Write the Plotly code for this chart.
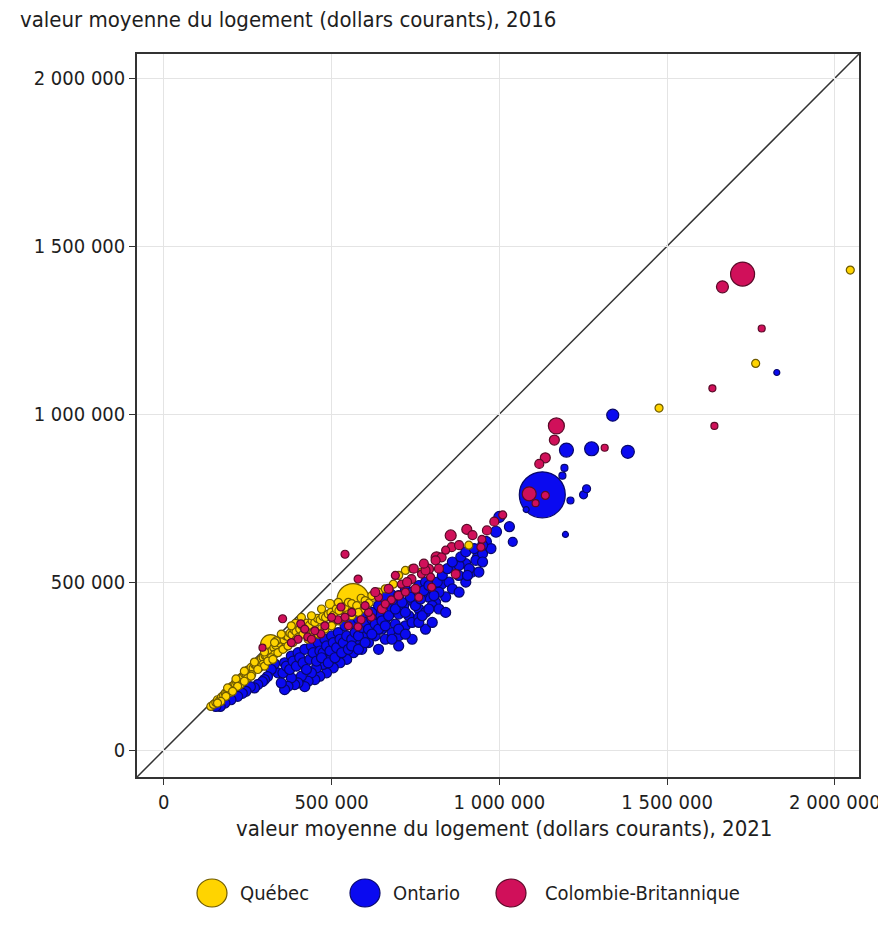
import plotly.graph_objects as go

# ---- data (thousands of current dollars) ----
qc_x = [564, 318, 495, 393,
        140, 148, 155, 160, 166, 172, 178, 183, 188, 193, 198, 203, 207, 212, 217, 222, 226, 231, 236, 240,
        245, 250, 255, 260, 266, 271, 276, 281, 286, 291, 296, 302, 307, 312, 322, 328, 334, 340, 346, 352,
        358, 364, 370, 376, 382, 388, 394, 405, 412, 420, 426, 434, 442, 450, 458, 466, 474, 482, 490, 498,
        506, 514, 522, 530, 540, 550, 560, 575, 588, 600, 612, 625, 684, 720, 768, 909, 1476, 1764, 2046,
        200, 228, 262, 295, 330, 360, 395, 430, 470, 505, 250, 285, 320,
        190, 215, 240, 270, 300, 335,
        300, 310, 325, 340, 355, 370, 385, 400, 415, 430, 445, 460, 480, 500, 520, 540, 560, 580, 600, 620,
        640, 660, 700, 740, 520, 470, 440, 410, 380, 350, 330, 280, 260, 240, 220, 205, 185, 170, 160]
qc_y = [448, 314, 435, 376,
        130, 136, 142, 150, 148, 158, 163, 170, 172, 180, 183, 190, 188, 198, 202, 208, 206, 216, 220, 228,
        226, 238, 236, 246, 244, 255, 252, 264, 262, 272, 276, 282, 280, 292, 296, 305, 312, 322, 318, 330,
        328, 340, 338, 348, 344, 358, 352, 360, 370, 365, 378, 372, 385, 380, 392, 388, 398, 395, 405, 410,
        402, 420, 415, 428, 425, 440, 436, 430, 452, 445, 438, 455, 494, 535, 530, 610, 1018, 1151, 1429,
        172, 195, 225, 255, 285, 305, 330, 348, 362, 380, 215, 245, 275,
        185, 212, 235, 262, 292, 325,
        250, 265, 270, 290, 300, 310, 320, 335, 345, 330, 350, 345, 360, 370, 385, 395, 400, 410, 420, 460,
        470, 480, 520, 540, 440, 420, 400, 395, 370, 345, 320, 240, 220, 205, 190, 175, 160, 145, 140]
qc_s = [32, 20, 9, 9] + [8] * 79 + [8] * 13 + [8] * 6 + [8] * 39

on_x = [1128, 668, 1200, 1275, 1338, 1383, 1000, 990, 1030, 960, 935, 900, 1827,
        1188, 1194, 1212, 1251, 1260, 1197, 1080, 1040,
        870, 840, 828, 850, 880, 918, 939, 930, 950, 975, 900, 879, 810, 790, 770, 760, 745, 730, 715, 700,
        690, 680, 660, 650, 640, 630, 620, 610, 600, 590, 575, 565, 555, 545, 535, 525, 515, 505, 495, 485,
        475, 465, 455, 450, 440, 430, 420, 410, 400, 390, 380, 370, 360, 350, 340, 330, 320, 309, 300, 294,
        280, 270, 258, 245, 234, 220, 200, 182, 168, 155,
        360, 380, 400, 420, 440, 460, 480, 500, 520, 540, 560, 580, 600, 620, 640, 700, 720, 740, 760, 780,
        800, 820, 640, 660, 680, 700, 720, 740, 760, 780, 800, 820, 700, 740, 780, 800, 840,
        355, 365, 375, 385, 395, 405, 415, 425, 435, 445, 455, 465,
        475, 485, 495, 505, 515, 525, 535, 545, 470, 490, 510, 530, 550,
        560, 570, 580, 590, 600, 610, 620, 630, 640, 650, 560, 580, 600, 620, 660, 670,
        690, 710, 720, 735, 750, 765, 775, 790, 805, 815, 760, 770, 790, 700, 720, 680,
        830, 845, 860, 885, 900, 910, 925, 950, 860, 880, 905, 950]
on_y = [760, 452, 893, 897, 997, 888, 694, 650, 665, 620, 575, 555, 1124,
        817, 840, 743, 760, 778, 642, 716, 620,
        544, 456, 494, 500, 550, 530, 530, 565, 585, 600, 500, 520, 440, 455, 465, 420, 440, 400, 430, 405,
        375, 420, 390, 360, 400, 340, 370, 320, 350, 300, 330, 290, 315, 270, 300, 260, 285, 245, 270, 230,
        255, 220, 245, 210, 230, 205, 189, 220, 200, 195, 215, 190, 180, 200, 230, 257, 240, 219, 210, 204,
        195, 185, 189, 175, 169, 160, 150, 140, 130, 130,
        260, 280, 290, 300, 310, 320, 330, 340, 350, 370, 380, 390, 400, 410, 430, 460, 480, 470, 490, 500,
        480, 470, 300, 330, 350, 340, 370, 380, 395, 410, 430, 420, 310, 330, 360, 380, 410,
        230, 250, 240, 265, 250, 275, 260, 240, 270, 290, 265, 295,
        290, 310, 295, 320, 305, 330, 320, 340, 275, 260, 275, 290, 300,
        330, 350, 340, 365, 380, 360, 390, 375, 360, 385, 310, 300, 320, 345, 370, 400,
        420, 440, 410, 455, 430, 450, 475, 490, 460, 500, 380, 400, 420, 360, 345, 330,
        520, 540, 560, 575, 590, 540, 600, 610, 480, 470, 520, 560]
on_s = ([46, 20, 14, 14, 12, 13, 11, 11, 10, 11, 10, 10, 6,
         7, 7, 7, 8, 8, 6, 6, 9] + [10] * 70 + [10] * 37 + [10] * 12 + [10] * 13 + [10] * 16
        + [10] * 16 + [10] * 12)

cb_x = [1725, 1665, 1782, 1635, 1641, 1170, 1164, 1314, 1137, 1119, 1089, 1137, 1108,
        855, 903, 813, 858, 963, 948, 945, 789, 870, 768, 708, 738, 795, 798, 828, 810, 840, 780, 690, 579,
        678, 618, 610, 528, 519, 540, 550, 588, 540, 354, 408, 420, 429, 468, 579, 650, 660, 700, 720, 750,
        760, 640, 600, 560, 500, 480, 450, 440, 400, 380, 294,
        630, 670, 725, 745, 775, 820, 880, 920, 985, 1010]
cb_y = [1417, 1379, 1255, 1077, 965, 965, 923, 900, 870, 852, 763, 758, 735,
        639, 657, 574, 604, 654, 627, 604, 539, 524, 524, 494, 509, 515, 485, 574, 565, 595, 535, 520, 509,
        447, 396, 410, 426, 388, 396, 370, 388, 583, 391, 376, 360, 337, 346, 367, 420, 435, 460, 470, 480,
        455, 455, 430, 410, 395, 370, 355, 330, 330, 320, 305,
        470, 480, 500, 540, 555, 540, 610, 640, 680, 700]
cb_s = [24, 12, 7, 7, 7, 16, 10, 7, 10, 9, 14, 8, 7,
        11, 10, 11, 9, 9, 8, 8, 10, 9, 8, 8, 9, 8, 8, 9, 9, 8, 9, 8, 8,
        8, 8, 8, 8, 8, 8, 8, 8, 8, 8, 8, 8, 8, 8, 8, 9, 8, 9, 8, 9,
        8, 8, 8, 8, 8, 8, 8, 8, 8, 8, 7,
        9, 9, 9, 9, 9, 9, 9, 9, 9, 8]

tick_vals = [0, 500000, 1000000, 1500000, 2000000]
tick_text = ["0", "500 000", "1 000 000", "1 500 000", "2 000 000"]
provinces = ["Québec", "Ontario", "Colombie-Britannique"]
fills = {"Québec": "#FFD400", "Ontario": "#0A0AF0", "Colombie-Britannique": "#D0105A"}
edges = {"Québec": "#6E5A00", "Ontario": "#08086A", "Colombie-Britannique": "#5A0A28"}

FONT = "DejaVu Sans Condensed"
TXT = "#1E1E1E"
RANGE = [-80000, 2072000]

fig = go.Figure()
series = {"Ontario": (on_x, on_y, on_s), "Québec": (qc_x, qc_y, qc_s),
          "Colombie-Britannique": (cb_x, cb_y, cb_s)}
for name in ["Ontario", "Québec", "Colombie-Britannique"]:
    xs, ys, ss = series[name]
    fig.add_trace(go.Scatter(
        x=[v * 1000 for v in xs], y=[v * 1000 for v in ys], mode="markers", name=name,
        showlegend=False,
        marker=dict(size=ss, sizemode="diameter", color=fills[name],
                    line=dict(color=edges[name], width=1.2), opacity=1),
    ))

# diagonal y = x reference
fig.add_shape(type="line", xref="x", yref="y", x0=RANGE[0], y0=RANGE[0], x1=RANGE[1], y1=RANGE[1],
              line=dict(color="#333333", width=1.5), layer="below")

axis_common = dict(range=RANGE, tickvals=tick_vals, ticktext=tick_text, showgrid=True,
                   gridcolor="#E4E4E4", gridwidth=1, zeroline=False, showline=True, mirror=True,
                   linecolor="#333333", linewidth=1.5, ticks="outside", ticklen=6, tickwidth=1.2,
                   tickcolor="#333333", tickfont=dict(family=FONT, size=20, color=TXT))
fig.update_xaxes(**axis_common)
fig.update_yaxes(**axis_common)

# page body has an 8px margin, so the figure is 878x920 drawn at (8, 8)
OFF = 8
W, H = 886 - OFF, 928 - OFF
L, T = 137 - OFF, 54 - OFF
pw, ph = 722, 723
R, B = W - L - pw, H - T - ph


def px(x):
    return (x - OFF - L) / pw


def py(y):
    return (H - B - (y - OFF)) / ph


ann = []
ann.append(dict(text="valeur moyenne du logement (dollars courants), 2016", x=px(18), y=py(20),
                xref="paper", yref="paper", xanchor="left", yanchor="middle", showarrow=False,
                font=dict(family=FONT, size=22, color=TXT)))
ann.append(dict(text="valeur moyenne du logement (dollars courants), 2021", x=px(504), y=py(828),
                xref="paper", yref="paper", xanchor="center", yanchor="middle", showarrow=False,
                font=dict(family=FONT, size=22, color=TXT)))

legend_circle_x = [212, 365, 511]
legend_text_x = [238, 391, 543]
for name, cx, tx in zip(provinces, legend_circle_x, legend_text_x):
    fig.add_shape(type="circle", xref="paper", yref="paper", xsizemode="pixel", ysizemode="pixel",
                  xanchor=px(cx), yanchor=py(893), x0=-15, x1=15, y0=-14, y1=14,
                  fillcolor=fills[name], line=dict(color=edges[name], width=1.2))
    ann.append(dict(text=name, x=px(tx), y=py(893), xref="paper", yref="paper", xanchor="left",
                    yanchor="middle", showarrow=False, font=dict(family=FONT, size=20, color=TXT)))

fig.update_layout(width=W, height=H, margin=dict(l=L, r=R, t=T, b=B, autoexpand=False),
                  plot_bgcolor="white", paper_bgcolor="white", annotations=ann, showlegend=False)

fig.write_html("out.html")
